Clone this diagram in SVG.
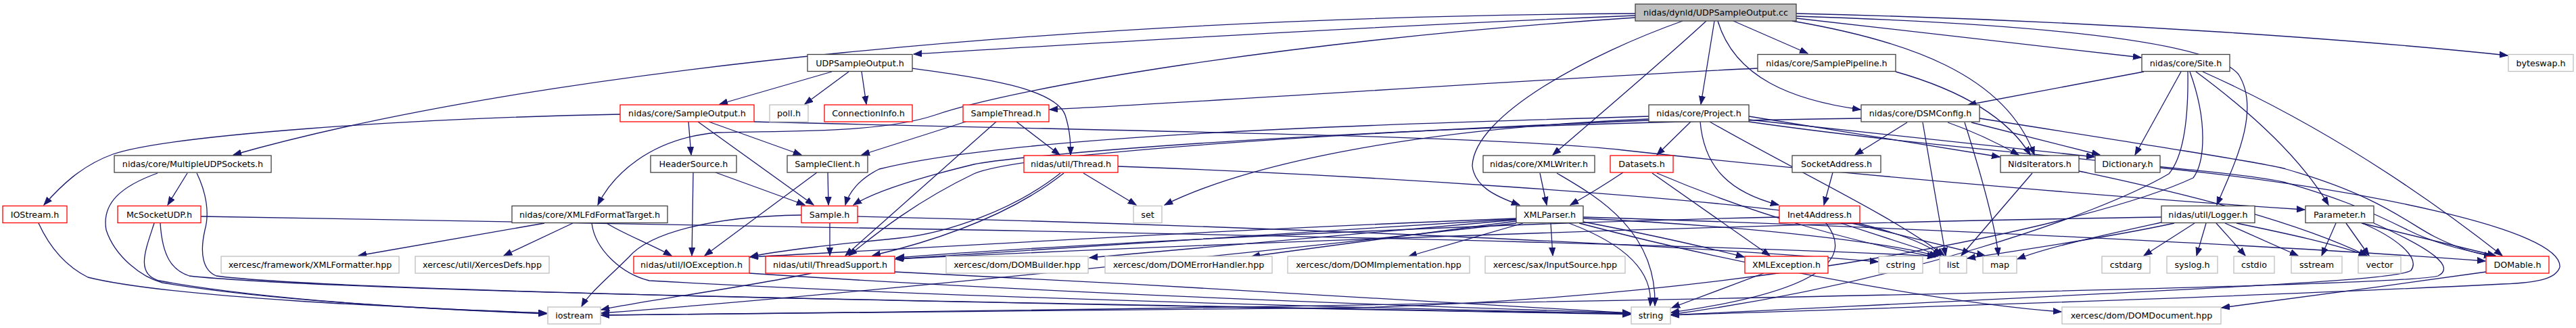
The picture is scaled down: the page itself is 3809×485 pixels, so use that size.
<svg xmlns="http://www.w3.org/2000/svg" width="3809" height="485" viewBox="0 0 3809 485">
<style>
.k rect{fill:#fff;stroke:#404040;stroke-width:1.3}
.r rect{fill:#fff;stroke:#ff0000;stroke-width:1.3}
.g rect{fill:#fff;stroke:#bfbfbf;stroke-width:1.3}
.root rect{fill:#bfbfbf;stroke:#404040;stroke-width:1.3}
text{font-family:"DejaVu Sans","Liberation Sans",sans-serif;font-size:12.7px;text-anchor:middle;fill:#000}
#edges path{fill:none;stroke:#191970;stroke-width:1.3;marker-end:url(#a)}
</style>
<defs>
<marker id="a" markerUnits="userSpaceOnUse" markerWidth="13" markerHeight="10" refX="12" refY="5" orient="auto"><path d="M0,0.5 L12,5 L0,9.5 z" fill="#191970" stroke="#191970"/></marker>
</defs>
<rect width="3809" height="485" fill="#fff"/>
<g id="edges">
<path d="M2418,20 C1600,25 800,100 345,229"/>
<path d="M2418,23 C2000,40 1600,65 1351,80"/>
<path d="M2418,26 C1900,60 1500,130 1383,170 C1300,198 1150,193 1060,196 C960,205 905,260 884,303"/>
<path d="M2488,31 C2350,80 2180,170 2177,245 C2180,275 2210,290 2247,303"/>
<path d="M2523,31 C2470,80 2400,140 2296,229"/>
<path d="M2535,31 L2515,154"/>
<path d="M2540,31 C2565,115 2650,148 2751,162"/>
<path d="M2563,31 L2673,79"/>
<path d="M2656,27 L3166,85"/>
<path d="M2650,31 C2820,60 2965,110 3008,229"/>
<path d="M2656,24 C3000,35 3270,60 3310,110 C3345,165 3300,250 3278,303"/>
<path d="M2656,20 C3100,30 3500,60 3708,82"/>
<path d="M1230,106 L1064,154"/>
<path d="M1255,106 L1190,154"/>
<path d="M1274,106 L1281,154"/>
<path d="M1349,101 C1450,115 1560,130 1575,170 C1583,195 1583,215 1583,229"/>
<path d="M2599,101 C2300,115 1800,150 1552,162"/>
<path d="M2803,106 C2870,125 2960,160 3002,229"/>
<path d="M917,169 C600,175 250,200 167,228 C120,245 90,275 65,303"/>
<path d="M1018,180 L1022,229"/>
<path d="M1032,180 L1203,303"/>
<path d="M1048,180 L1185,229"/>
<path d="M1115,180 C1700,195 2200,200 2400,222 C2700,255 3100,290 3408,310"/>
<path d="M1428,180 L1274,229"/>
<path d="M1503,180 L1567,229"/>
<path d="M1473,180 L1250,378"/>
<path d="M1025,255 L1023,378"/>
<path d="M1058,255 L1190,303"/>
<path d="M1224,255 L1225,303"/>
<path d="M1208,255 L1042,378"/>
<path d="M1227,330 L1227,378"/>
<path d="M1185,318 C1050,320 960,345 930,380 C900,410 870,435 860,453"/>
<path d="M1268,320 C1700,330 2400,355 2777,387"/>
<path d="M1602,256 L1680,303"/>
<path d="M1573,256 C1530,290 1450,340 1290,378"/>
<path d="M1568,256 C1500,310 1400,345 1330,352 C1250,360 1150,370 1109,380"/>
<path d="M1653,246 C2000,258 2500,290 2700,320 C2800,340 2850,360 2870,378"/>
<path d="M2277,256 L2287,303"/>
<path d="M2302,256 C2360,290 2450,340 2447,452"/>
<path d="M2293,330 L2296,378"/>
<path d="M2252,330 C2200,345 2130,365 2083,379"/>
<path d="M2242,325 C2000,345 1800,365 1611,381"/>
<path d="M2242,327 C2100,345 1950,365 1851,379"/>
<path d="M2242,323 C1800,340 1400,365 1109,380"/>
<path d="M2242,324 C1900,345 1500,370 1324,383"/>
<path d="M2320,330 C2400,360 2445,400 2440,452"/>
<path d="M2341,328 C2430,345 2520,365 2579,380"/>
<path d="M2341,323 C2600,335 2800,360 2865,379"/>
<path d="M2335,330 C2600,400 2900,450 3048,461"/>
<path d="M2341,321 C2800,335 3400,365 3675,386"/>
<path d="M2242,330 C1800,380 1200,440 889,463"/>
<path d="M2400,255 C2370,275 2345,290 2322,303"/>
<path d="M2443,256 L2617,378"/>
<path d="M2450,256 C2600,320 2750,360 2862,380"/>
<path d="M2500,180 L2450,229"/>
<path d="M2514,180 C2520,250 2560,285 2630,303"/>
<path d="M2528,180 C2650,250 2800,320 2875,378"/>
<path d="M2586,172 C2700,190 2850,215 2957,232"/>
<path d="M2586,177 C2800,200 3000,220 3097,232"/>
<path d="M2438,172 C2000,185 1500,200 1300,250 C1270,265 1255,285 1250,303"/>
<path d="M2438,178 C1900,200 1500,230 1440,257 C1350,300 1290,350 1255,378"/>
<path d="M2438,176 C2100,190 1850,240 1722,303"/>
<path d="M2586,180 C2900,225 3300,250 3380,270 C3450,290 3500,310 3560,340 C3600,360 3650,372 3690,379"/>
<path d="M2820,181 L2743,229"/>
<path d="M2843,181 L2877,378"/>
<path d="M2880,181 C2920,195 2960,215 2985,229"/>
<path d="M2915,181 L3105,229"/>
<path d="M2927,175 C3150,210 3360,243 3380,250 C3520,290 3560,330 3600,350 C3630,365 3660,375 3685,379"/>
<path d="M2752,175 C2000,185 1500,230 1440,243 C1350,265 1290,285 1262,303"/>
<path d="M2905,181 C2930,260 2950,330 2955,378"/>
<path d="M2710,255 L2697,303"/>
<path d="M2631,321 C2200,330 1600,360 1325,381"/>
<path d="M2700,330 C2740,380 2700,430 2471,462"/>
<path d="M2722,330 L2870,378"/>
<path d="M2738,330 L2935,378"/>
<path d="M3170,106 L2910,155"/>
<path d="M3225,106 L3157,229"/>
<path d="M3247,106 C3320,160 3400,230 3443,303"/>
<path d="M3257,106 C3400,170 3550,260 3700,378"/>
<path d="M3235,106 C3236,170 3230,230 3207,257 C3100,320 2800,420 2471,465"/>
<path d="M3238,106 C3265,180 3260,240 3243,263 C3100,330 2600,440 2000,455 C1500,462 1100,462 889,466"/>
<path d="M3005,256 L2900,378"/>
<path d="M3074,253 C3250,290 3400,330 3500,378"/>
<path d="M3194,248 C3500,280 3790,340 3785,395 C3780,410 3760,418 3700,420 C3300,440 2800,455 2471,466"/>
<path d="M3245,330 L3170,378"/>
<path d="M3262,330 L3248,378"/>
<path d="M3277,330 L3320,378"/>
<path d="M3200,328 C3100,350 3030,365 2983,383"/>
<path d="M3215,330 C3100,355 2950,375 2909,382"/>
<path d="M3290,330 L3398,378"/>
<path d="M3307,330 C3380,345 3450,360 3500,378"/>
<path d="M3196,321 C2600,330 1800,360 1324,383"/>
<path d="M3454,330 L3433,378"/>
<path d="M3469,330 L3503,378"/>
<path d="M3492,330 L3690,378"/>
<path d="M3493,330 C3540,350 3580,380 3565,400 C3540,415 3300,425 2471,466"/>
<path d="M3510,330 C3600,370 3630,395 3605,408 C3550,425 2000,455 889,466"/>
<path d="M3676,402 C3550,420 3400,440 3285,455"/>
<path d="M1108,404 C1500,430 2000,450 2411,463"/>
<path d="M1200,404 C1100,425 950,445 889,458"/>
<path d="M1323,402 C1700,420 2200,450 2411,463"/>
<path d="M2608,404 L2472,455"/>
<path d="M805,330 L530,378"/>
<path d="M847,330 L745,378"/>
<path d="M897,330 C920,345 960,360 993,378"/>
<path d="M875,330 C880,370 920,405 960,415 C1400,440 2000,455 2411,464"/>
<path d="M277,256 L248,303"/>
<path d="M233,256 C180,275 150,300 157,340 C170,380 210,410 240,418 C400,445 650,458 808,463"/>
<path d="M291,256 C305,285 310,315 303,340 C295,375 300,400 320,408 C500,432 1500,448 2411,464"/>
<path d="M297,320 C700,325 1000,335 1440,340 C2000,350 2600,365 2862,379"/>
<path d="M228,330 C215,370 200,405 235,415 C400,445 650,458 808,464"/>
<path d="M237,330 C240,380 255,400 280,408 C500,432 1500,448 2411,465"/>
<path d="M57,330 C80,380 110,400 130,410 C250,440 600,455 808,463"/>
</g>
<g id="root" class="root"><rect x="2418" y="6" width="238" height="25"/><text x="2537" y="23">nidas/dynld/UDPSampleOutput.cc</text></g>
<g id="udph" class="k"><rect x="1194" y="80.5" width="155" height="25"/><text x="1271.5" y="97.5">UDPSampleOutput.h</text></g>
<g id="pipe" class="k"><rect x="2599" y="80.5" width="204" height="25"/><text x="2701" y="97.5">nidas/core/SamplePipeline.h</text></g>
<g id="site" class="k"><rect x="3167" y="80.5" width="130" height="25"/><text x="3232" y="97.5">nidas/core/Site.h</text></g>
<g id="bswap" class="g"><rect x="3709" y="80.5" width="96" height="25"/><text x="3757" y="97.5">byteswap.h</text></g>
<g id="sout" class="r"><rect x="917" y="155" width="198" height="25"/><text x="1016" y="172">nidas/core/SampleOutput.h</text></g>
<g id="poll" class="g"><rect x="1138" y="155" width="57" height="25"/><text x="1166.5" y="172">poll.h</text></g>
<g id="conn" class="r"><rect x="1219" y="155" width="130" height="25"/><text x="1284" y="172">ConnectionInfo.h</text></g>
<g id="sthr" class="r"><rect x="1424" y="155" width="127" height="25"/><text x="1487.5" y="172">SampleThread.h</text></g>
<g id="proj" class="k"><rect x="2438" y="155" width="148" height="25"/><text x="2512" y="172">nidas/core/Project.h</text></g>
<g id="dsmc" class="k"><rect x="2752" y="155" width="175" height="25"/><text x="2839.5" y="172">nidas/core/DSMConfig.h</text></g>
<g id="mudp" class="k"><rect x="169" y="230" width="232" height="25"/><text x="285" y="247">nidas/core/MultipleUDPSockets.h</text></g>
<g id="hdr" class="k"><rect x="962" y="230" width="127" height="25"/><text x="1025.5" y="247">HeaderSource.h</text></g>
<g id="scli" class="k"><rect x="1164" y="230" width="119" height="25"/><text x="1223.5" y="247">SampleClient.h</text></g>
<g id="thr" class="r"><rect x="1514" y="230" width="139" height="25"/><text x="1583.5" y="247">nidas/util/Thread.h</text></g>
<g id="xw" class="k"><rect x="2193" y="230" width="165" height="25"/><text x="2275.5" y="247">nidas/core/XMLWriter.h</text></g>
<g id="dset" class="r"><rect x="2381" y="230" width="93" height="25"/><text x="2427.5" y="247">Datasets.h</text></g>
<g id="sock" class="k"><rect x="2650" y="230" width="131" height="25"/><text x="2715.5" y="247">SocketAddress.h</text></g>
<g id="nids" class="k"><rect x="2958" y="230" width="116" height="25"/><text x="3016" y="247">NidsIterators.h</text></g>
<g id="dict" class="k"><rect x="3098" y="230" width="96" height="25"/><text x="3146" y="247">Dictionary.h</text></g>
<g id="iost" class="r"><rect x="4" y="304.5" width="95" height="25"/><text x="51.5" y="321.5">IOStream.h</text></g>
<g id="mcs" class="r"><rect x="174" y="304.5" width="123" height="25"/><text x="235.5" y="321.5">McSocketUDP.h</text></g>
<g id="xfd" class="k"><rect x="757" y="304.5" width="230" height="25"/><text x="872" y="321.5">nidas/core/XMLFdFormatTarget.h</text></g>
<g id="samp" class="r"><rect x="1185" y="304.5" width="83" height="25"/><text x="1226.5" y="321.5">Sample.h</text></g>
<g id="set" class="g"><rect x="1676" y="304.5" width="42" height="25"/><text x="1697" y="321.5">set</text></g>
<g id="xp" class="k"><rect x="2242" y="304.5" width="99" height="25"/><text x="2291.5" y="321.5">XMLParser.h</text></g>
<g id="inet" class="r"><rect x="2631" y="304.5" width="119" height="25"/><text x="2690.5" y="321.5">Inet4Address.h</text></g>
<g id="log" class="k"><rect x="3196" y="304.5" width="138" height="25"/><text x="3265" y="321.5">nidas/util/Logger.h</text></g>
<g id="param" class="k"><rect x="3409" y="304.5" width="101" height="25"/><text x="3459.5" y="321.5">Parameter.h</text></g>
<g id="xfmt" class="g"><rect x="327" y="379" width="263" height="25"/><text x="458.5" y="396">xercesc/framework/XMLFormatter.hpp</text></g>
<g id="xdef" class="g"><rect x="614" y="379" width="198" height="25"/><text x="713" y="396">xercesc/util/XercesDefs.hpp</text></g>
<g id="ioex" class="r"><rect x="937" y="379" width="171" height="25"/><text x="1022.5" y="396">nidas/util/IOException.h</text></g>
<g id="tsup" class="r"><rect x="1132" y="379" width="191" height="25"/><text x="1227.5" y="396">nidas/util/ThreadSupport.h</text></g>
<g id="dbld" class="g"><rect x="1399" y="379" width="210" height="25"/><text x="1504" y="396">xercesc/dom/DOMBuilder.hpp</text></g>
<g id="derr" class="g"><rect x="1634" y="379" width="247" height="25"/><text x="1757.5" y="396">xercesc/dom/DOMErrorHandler.hpp</text></g>
<g id="dimp" class="g"><rect x="1904" y="379" width="269" height="25"/><text x="2038.5" y="396">xercesc/dom/DOMImplementation.hpp</text></g>
<g id="isrc" class="g"><rect x="2196" y="379" width="207" height="25"/><text x="2299.5" y="396">xercesc/sax/InputSource.hpp</text></g>
<g id="xex" class="r"><rect x="2580" y="379" width="123" height="25"/><text x="2641.5" y="396">XMLException.h</text></g>
<g id="cstr" class="g"><rect x="2778" y="379" width="65" height="25"/><text x="2810.5" y="396">cstring</text></g>
<g id="list" class="g"><rect x="2868" y="379" width="40" height="25"/><text x="2888" y="396">list</text></g>
<g id="map" class="g"><rect x="2932" y="379" width="50" height="25"/><text x="2957" y="396">map</text></g>
<g id="cstdarg" class="g"><rect x="3108" y="379" width="71" height="25"/><text x="3143.5" y="396">cstdarg</text></g>
<g id="syslog" class="g"><rect x="3204" y="379" width="75" height="25"/><text x="3241.5" y="396">syslog.h</text></g>
<g id="cstdio" class="g"><rect x="3303" y="379" width="60" height="25"/><text x="3333" y="396">cstdio</text></g>
<g id="sstr" class="g"><rect x="3388" y="379" width="75" height="25"/><text x="3425.5" y="396">sstream</text></g>
<g id="vec" class="g"><rect x="3487" y="379" width="63" height="25"/><text x="3518.5" y="396">vector</text></g>
<g id="doma" class="r"><rect x="3676" y="379" width="93" height="25"/><text x="3722.5" y="396">DOMable.h</text></g>
<g id="ios" class="g"><rect x="810" y="454" width="78" height="25"/><text x="849" y="471">iostream</text></g>
<g id="str" class="g"><rect x="2412" y="454" width="58" height="25"/><text x="2441" y="471">string</text></g>
<g id="ddoc" class="g"><rect x="3049" y="454" width="235" height="25"/><text x="3166.5" y="471">xercesc/dom/DOMDocument.hpp</text></g>
</svg>
